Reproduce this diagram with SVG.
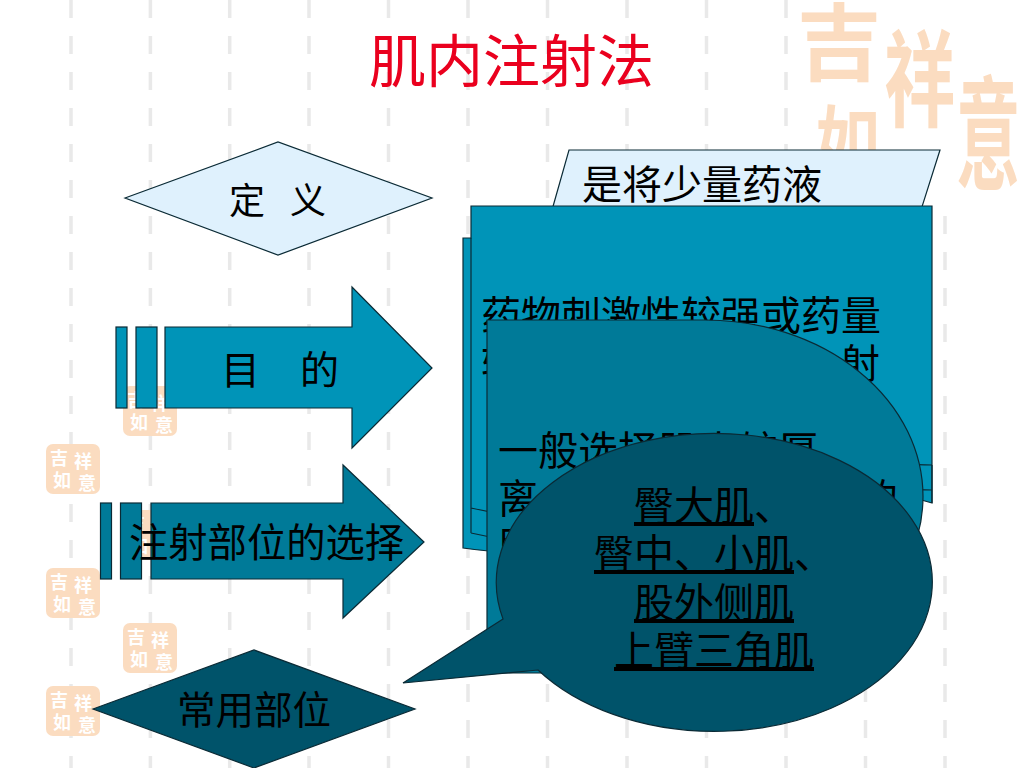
<svg xmlns="http://www.w3.org/2000/svg" xmlns:xlink="http://www.w3.org/1999/xlink" width="1024" height="768" viewBox="0 0 1024 768">
<style>
text{font-family:"Liberation Serif","Noto Sans CJK SC",serif;fill:#000}
.dash{stroke:#e9e9e9;stroke-width:3.5;stroke-dasharray:18 18;fill:none}
.s{stroke:#0a2a35;stroke-width:1.2;stroke-linejoin:miter}
.light{fill:#dff1fd}
.b1{fill:#0094b8}
.b2{fill:#007a98}
.b3{fill:#00536a}
.t40{font-size:40px}
.t36{font-size:36px}
.u{text-decoration:underline}
.seal{fill:#fbdcc0}
.wm{fill:#fbdcc0;font-weight:700}
.sealt{fill:#fff;font-size:18px;font-weight:700}
</style>
<defs>
<g id="seal">
<rect class="seal" x="0" y="0" width="54" height="50" rx="7"/>
<text class="sealt" x="4" y="21">吉</text>
<text class="sealt" x="28" y="24">祥</text>
<text class="sealt" x="7" y="43">如</text>
<text class="sealt" x="32" y="46">意</text>
</g>
</defs>
<rect width="1024" height="768" fill="#fff"/>
<g id="background">
<path class="dash" d="M71 0V768M150.400 0V768M229.700 0V768M309 0V768M388.500 0V768M468 0V768M547.500 0V768M627 0V768M706.500 0V768M786 0V768M865.500 0V768M945 0V768"/>
<use xlink:href="#seal" href="#seal" x="46" y="444"/>
<use xlink:href="#seal" href="#seal" x="46" y="568"/>
<use xlink:href="#seal" href="#seal" x="46" y="686"/>
<use xlink:href="#seal" href="#seal" x="123" y="386"/>
<use xlink:href="#seal" href="#seal" x="123" y="510"/>
<use xlink:href="#seal" href="#seal" x="123" y="623"/>
<rect x="790" y="0" width="234" height="200" fill="#fff"/>
<text class="wm" x="797" y="74" font-size="84">吉</text>
<text class="wm" transform="translate(884 118) scale(0.85 1.25)" x="0" y="0" font-size="84">祥</text>
<text class="wm" transform="translate(816 172) scale(1 1.25)" x="0" y="0" font-size="64">如</text>
<text class="wm" transform="translate(956 180) scale(0.92 1.75)" x="0" y="0" font-size="70">意</text>
</g>
<text id="title" x="369" y="82" font-size="57" style="fill:#ea001e">肌内注射法</text>
<g id="connectors"></g>
<g id="node-define">
<polygon class="light s" points="125,198 278,142 432,198 278,255"/>
<text class="t36" x="229" y="214">定</text>
<text class="t36" x="290" y="214">义</text>
</g>
<g id="node-define-text">
<polygon class="light s" points="569,150 940,150 921,210 552,210"/>
<text class="t40" x="582" y="199">是将少量药液</text>
</g>
<g id="node-purpose">
<rect class="b1 s" x="116" y="327" width="11" height="81"/>
<rect class="b1 s" x="136" y="327" width="21" height="81"/>
<polygon class="b1 s" points="165,327 352,327 352,287 432,368 352,448 352,408 165,408"/>
<text x="221" y="384" font-size="39">目</text>
<text x="300" y="384" font-size="39">的</text>
</g>
<g id="node-site">
<rect class="b2 s" x="100.500" y="503" width="11" height="76"/>
<rect class="b2 s" x="120.500" y="503" width="21" height="76"/>
<polygon class="b2 s" points="151,503 343,503 343,465 424,542 343,618 343,579 151,579"/>
<text x="129" y="557" font-size="39.300">注射部位的选择</text>
</g>
<g id="node-common">
<polygon class="b3 s" points="93,709 254,650 415,709 254,768"/>
<text x="177" y="724" font-size="38.500">常用部位</text>
</g>
<g id="node-purpose-text">
<path class="b1 s" d="M463 238H471V206H932V503C890 490 860 490 820 490C700 490 600 570 463 548Z"/>
<path class="s" fill="none" d="M471 238V533M471 508C600 540 700 465 820 462C870 460 900 465 932 465M471 533C600 565 700 490 820 488C870 486 900 490 932 490M932 465V503"/>
<text class="t40" x="481" y="330">药物刺激性较强或药量</text>
<text class="t40" x="481" y="378">较</text>
<text class="t40" x="840" y="378">射</text>
</g>
<g id="node-site-text">
<path class="b2 s" d="M487 320H705A218 176.500 0 0 1 705 673H487Z"/>
<text class="t40" x="498" y="465">一般选择肌肉较厚</text>
<text class="t40" x="498" y="513">离</text>
<text class="t40" x="858" y="513">的</text>
<text class="t40" x="498" y="561">肌</text>
</g>
<g id="node-common-text">
<path class="b3 s" d="M403 683L503 619A218 149 0 1 1 538 670Z"/>
<text class="t40" x="634" y="520"><tspan class="u">臀大肌</tspan>、</text>
<text class="t40" x="594" y="568"><tspan class="u">臀中、小肌</tspan>、</text>
<text class="t40 u" x="634" y="617">股外侧肌</text>
<text class="t40 u" x="614" y="665">上臂三角肌</text>
</g>
</svg>
